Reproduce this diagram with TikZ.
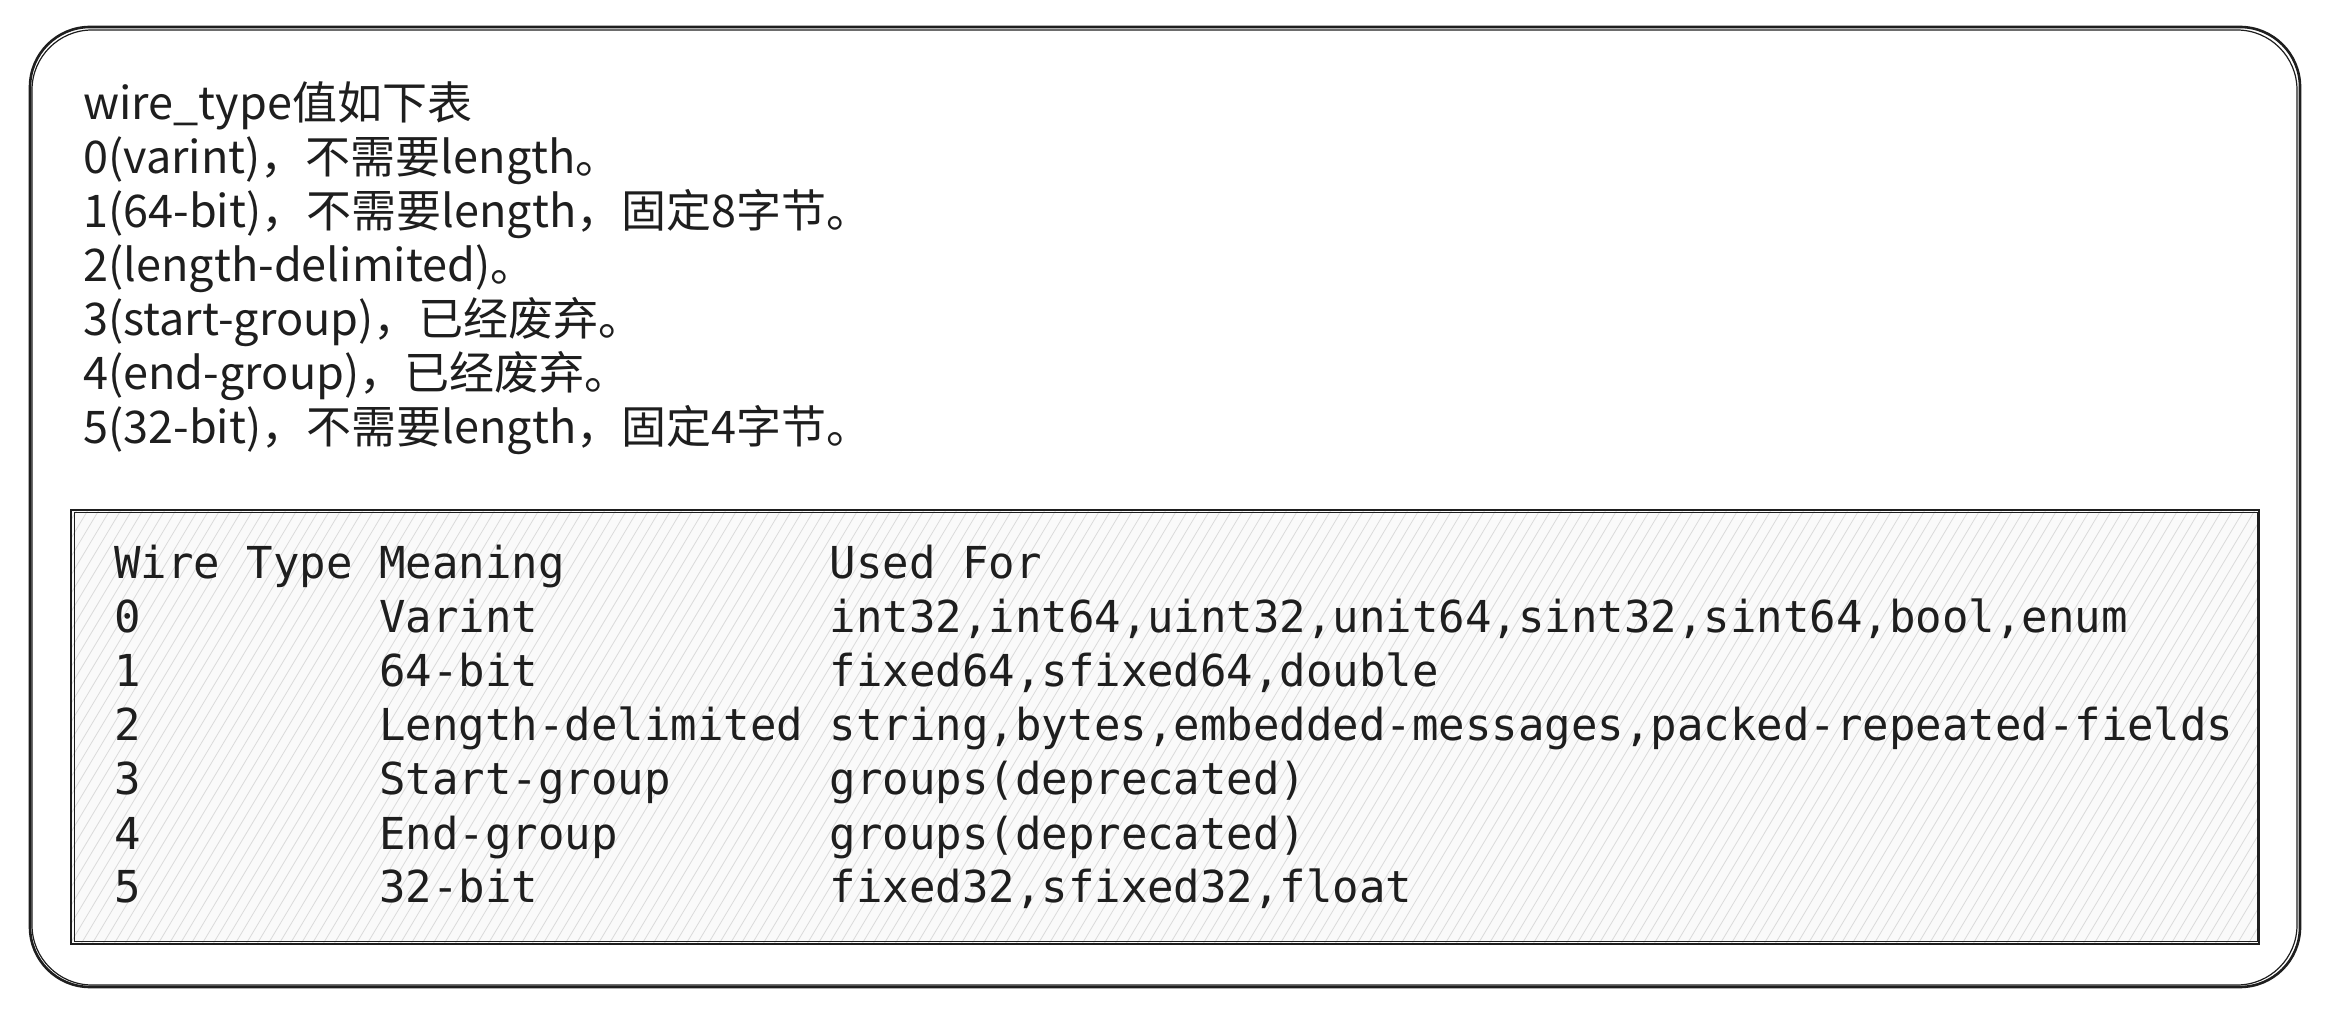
\documentclass[tikz,border=0pt]{standalone}
\usepackage{fontspec}
\usepackage{xcolor}
\usetikzlibrary{scopes}
\setmonofont{DejaVu Sans Mono}
\newfontfamily\cjk{Noto Sans CJK SC}
\definecolor{ink}{HTML}{1E1E1E}
\definecolor{hatchgray}{HTML}{DADADA}
\newlength\wtcw
\newcommand\wtrow[3]{\makebox[10\wtcw][l]{#1}\makebox[17\wtcw][l]{#2}#3}

\begin{document}
\settowidth{\wtcw}{\ttfamily\fontsize{22}{27}\selectfont 0}
\begin{tikzpicture}[x=0.5pt,y=-0.5pt,
      frame/.style={draw=ink,line width=1.3pt,rounded corners=30pt},
      codebox/.style={draw=ink,line width=1.1pt},
      hatch/.style={draw=hatchgray,line width=0.4pt},
      note/.style={anchor=base west,inner sep=0pt,text=ink,font=\cjk\fontsize{22.5}{27}\selectfont},
      code/.style={anchor=base west,inner sep=0pt,text=ink,font=\ttfamily\fontsize{22}{27}\selectfont}
]
      \useasboundingbox (0,0) rectangle (2330,1020);
      % outer frame, drawn twice for the sketchy look
      \draw[frame] (30,27) rectangle (2300,987);
      \draw[frame,line width=0.6pt] (32,30) rectangle (2297,985);

      % wire_type notes
      \foreach \t [count=\i from 0] in {wire\_type值如下表,
            0(varint)，不需要length。,
            1(64-bit)，不需要length，固定8字节。,
            2(length-delimited)。,
            3(start-group)，已经废弃。,
            4(end-group)，已经废弃。,
            5(32-bit)，不需要length，固定4字节。}
          \node[note] (note\i) at (83,{120+54*\i}) {\t};

      % code box with hachure fill
      \fill[gray!4] (71,510) rectangle (2259,944);
      {[hatch]
          \clip (71,510) rectangle (2259,944);
          \foreach \x in {-260,-249,...,2260}
              \draw (\x,944) -- ++(260,-434);
      }
      \draw[codebox] (71,510) rectangle (2259,944);
      \draw[codebox,line width=0.5pt] (74,513) rectangle (2257,941);

      \node[code] (hdr) at (114,579) {\wtrow{Wire Type}{Meaning}{Used For}};
      \node[code] (row0) at (114,633) {\wtrow{0}{Varint}{int32,int64,uint32,unit64,sint32,sint64,bool,enum}};
      \node[code] (row1) at (114,687) {\wtrow{1}{64-bit}{fixed64,sfixed64,double}};
      \node[code] (row2) at (114,741) {\wtrow{2}{Length-delimited}{string,bytes,embedded-messages,packed-repeated-fields}};
      \node[code] (row3) at (114,795) {\wtrow{3}{Start-group}{groups(deprecated)}};
      \node[code] (row4) at (114,849) {\wtrow{4}{End-group}{groups(deprecated)}};
      \node[code] (row5) at (114,903) {\wtrow{5}{32-bit}{fixed32,sfixed32,float}};
\end{tikzpicture}
\end{document}
